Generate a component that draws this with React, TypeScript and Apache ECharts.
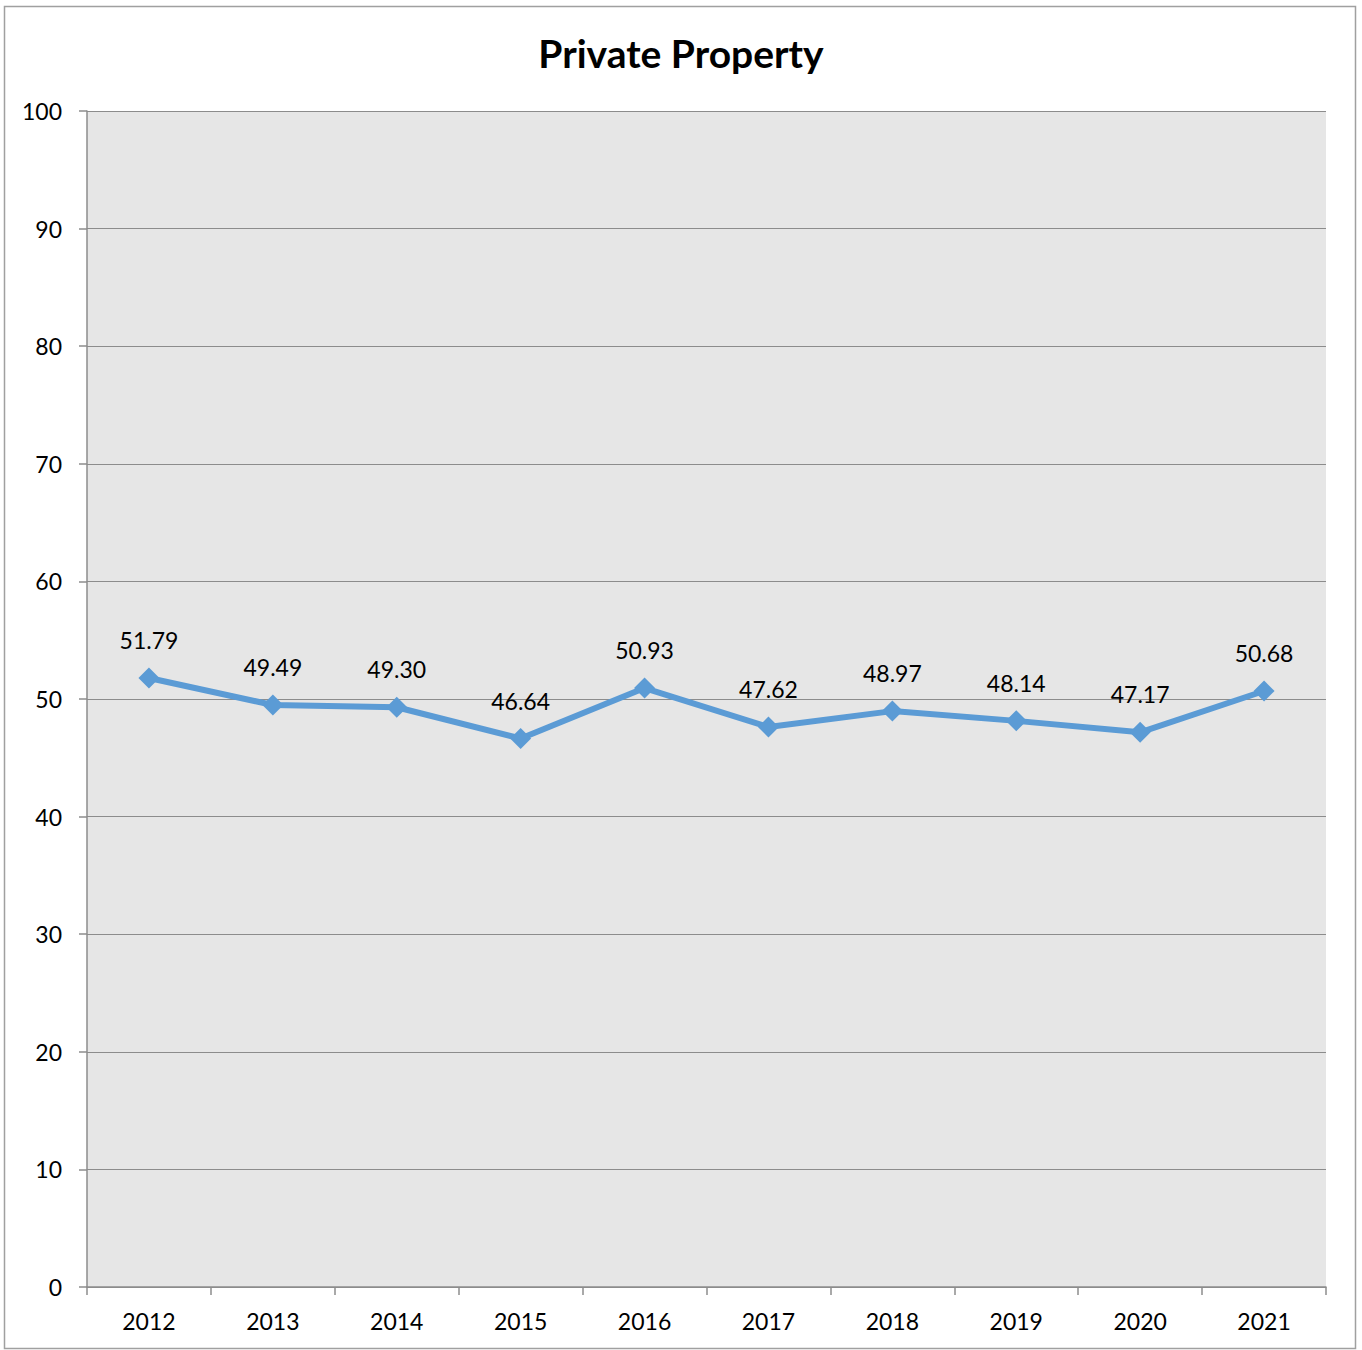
import React, { useEffect, useRef } from "react";
import * as echarts from "echarts";

const years = ["2012", "2013", "2014", "2015", "2016", "2017", "2018", "2019", "2020", "2021"];
const values = [51.79, 49.49, 49.3, 46.64, 50.93, 47.62, 48.97, 48.14, 47.17, 50.68];
const yTicks = { min: 0, max: 100, interval: 10 };
const title = "Private Property";

export default function App() {
  const ref = useRef<HTMLDivElement>(null);
  useEffect(() => {
    const chart = echarts.init(ref.current!, null, { renderer: "svg" });
    const font = "Lato, 'Open Sans', sans-serif";
    chart.setOption({
      animation: false,
      backgroundColor: "#ffffff",
      title: {
        text: title,
        left: "center",
        top: 28,
        textStyle: { fontFamily: font, fontSize: 39, fontWeight: "bold", color: "#000" },
      },
      graphic: [
        {
          type: "rect",
          shape: { x: 4.5, y: 6.5, width: 1351, height: 1342 },
          style: { fill: "none", stroke: "#a0a0a0", lineWidth: 1.5 },
          silent: true,
        },
      ],
      grid: { left: 87, right: 36, top: 111, bottom: 63, show: true, backgroundColor: "#e6e6e6", borderWidth: 0 },
      xAxis: {
        type: "category",
        data: years,
        boundaryGap: true,
        axisLine: { show: true, lineStyle: { color: "#8c8c8c", width: 1.5 } },
        axisTick: { show: true, alignWithLabel: false, length: 8, lineStyle: { color: "#8c8c8c", width: 1.5 } },
        axisLabel: { fontFamily: font, fontSize: 23, color: "#000", margin: 22 },
      },
      yAxis: {
        type: "value",
        min: yTicks.min,
        max: yTicks.max,
        interval: yTicks.interval,
        axisLine: { show: true, lineStyle: { color: "#8c8c8c", width: 1.5 } },
        axisTick: { show: true, length: 8, lineStyle: { color: "#8c8c8c", width: 1.5 } },
        axisLabel: { fontFamily: font, fontSize: 23, color: "#000", margin: 25 },
        splitLine: { show: true, lineStyle: { color: "#8c8c8c", width: 1.2 } },
      },
      series: [
        {
          type: "line",
          data: values,
          symbol: "diamond",
          symbolSize: 21,
          lineStyle: { color: "#5b9bd5", width: 6 },
          itemStyle: { color: "#5b9bd5" },
          label: {
            show: true,
            position: "top",
            distance: 16,
            fontFamily: font,
            fontSize: 23,
            color: "#000",
            formatter: (p: any) => p.value.toFixed(2),
          },
        },
      ],
    });
    return () => chart.dispose();
  }, []);
  return <div ref={ref} style={{ position: "absolute", left: 0, top: 0, width: 1362, height: 1350 }} />;
}
